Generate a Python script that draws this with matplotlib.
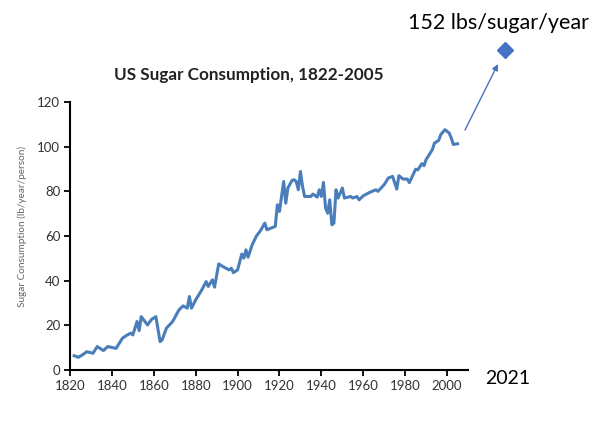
import matplotlib
matplotlib.use("Agg")
import matplotlib.pyplot as plt

plt.rcParams['font.family'] = ['Lato', 'DejaVu Sans']

years = [1822, 1824, 1826, 1828, 1831, 1833, 1836, 1838, 1842, 1845, 1847, 1849,
         1850, 1852, 1853, 1854, 1857, 1859, 1861, 1863, 1864, 1866, 1869, 1872,
         1874, 1876, 1877, 1878, 1880, 1883, 1885, 1886, 1888, 1889, 1891, 1893,
         1896, 1897, 1898, 1900, 1902, 1903, 1904, 1905, 1907, 1909, 1911, 1913,
         1914, 1918, 1919, 1920, 1922, 1923, 1924, 1926, 1927, 1928, 1929, 1930,
         1931, 1932, 1935, 1936, 1938, 1939, 1940, 1941, 1942, 1943, 1944, 1945,
         1946, 1947, 1948, 1950, 1951, 1954, 1955, 1957, 1958, 1960, 1963, 1966,
         1967, 1970, 1972, 1974, 1976, 1977, 1979, 1981, 1982, 1985, 1986, 1988,
         1989, 1990, 1993, 1994, 1996, 1997, 1999, 2001, 2002, 2003, 2005]
sugar = [6.4, 5.7, 6.8, 8.2, 7.5, 10.5, 8.7, 10.5, 9.7, 14.2, 15.5, 16.5,
         15.7, 21.7, 17.6, 23.9, 20.2, 22.7, 23.9, 12.7, 13.5, 18.7, 21.7, 26.9,
         28.7, 27.7, 32.9, 27.7, 31.4, 36.0, 39.6, 37.4, 40.4, 37.1, 47.5, 46.3,
         44.8, 45.6, 43.6, 44.8, 51.9, 50.1, 53.8, 50.5, 56.1, 60.0, 62.5, 65.8,
         62.8, 64.3, 74.0, 71.0, 84.4, 74.7, 81.5, 84.9, 85.2, 84.4, 80.7, 88.9,
         82.2, 77.7, 77.7, 78.8, 77.4, 80.7, 77.7, 84.0, 72.5, 70.2, 76.2, 65.0,
         65.8, 80.7, 77.0, 81.5, 77.0, 77.7, 77.0, 77.7, 76.2, 78.0, 79.5, 80.7,
         80.0, 83.0, 86.0, 86.7, 81.0, 87.0, 85.5, 85.5, 83.9, 89.9, 89.6, 92.4,
         91.5, 94.2, 98.7, 101.6, 102.8, 105.4, 107.6, 106.1, 103.9, 101.0, 101.3]

x_ticks = list(range(1820, 2001, 20))
y_ticks = list(range(0, 121, 20))

W, H = 600, 429
fig = plt.figure(figsize=(6, 4.29), dpi=100)
ax = fig.add_axes([70 / W, 1 - 370 / H, 398 / W, 268 / H])

ax.plot(years, sugar, color='#4a7ebb', lw=2.2, solid_joinstyle='round')

ax.set_xlim(1820, 2010)
ax.set_ylim(0, 120)
ax.set_xticks(x_ticks)
ax.set_yticks(y_ticks)
ax.tick_params(axis='both', direction='out', length=4, width=1.3,
               labelsize=9.5, labelcolor='#333333', pad=3)
for s in ['top', 'right']:
    ax.spines[s].set_visible(False)
for s in ['left', 'bottom']:
    ax.spines[s].set_linewidth(1.5)

fig.text(22 / W, 1 - 226 / H, 'Sugar Consumption (lb/year/person)', rotation=90,
         ha='center', va='center', fontsize=7.2, color='#666666')
fig.text(249 / W, 1 - 75 / H, 'US Sugar Consumption, 1822-2005',
         ha='center', va='center', fontsize=12.3, fontweight='bold', color='#222222')

# 2021 annotation outside the plot
fig.text(499 / W, 1 - 23 / H, '152 lbs/sugar/year', ha='center', va='center',
         fontsize=15.5, color='black')
fig.text(508 / W, 1 - 379 / H, '2021', ha='center', va='center',
         fontsize=14, color='black')
ax.plot([505 / W], [1 - 50 / H], marker='D', markersize=8, color='#4472c4',
        transform=fig.transFigure, clip_on=False)
ax.annotate('', xy=(498 / W, 1 - 64 / H), xytext=(465 / W, 1 - 130 / H),
            xycoords='figure fraction', textcoords='figure fraction',
            arrowprops=dict(arrowstyle='-|>', color='#4472c4', lw=1,
                            mutation_scale=9, shrinkA=0, shrinkB=0))

fig.savefig('out.png', dpi=100)
